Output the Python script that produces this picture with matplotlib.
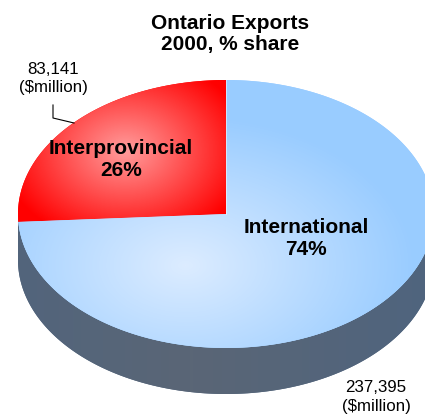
import numpy as np
import matplotlib.pyplot as plt
from matplotlib.patches import Polygon
from matplotlib.colors import LinearSegmentedColormap

labels = ["Interprovincial", "International"]
values = [83141, 237395]          # $million
shares = [26, 74]                 # % share
title = "Ontario Exports\n2000, % share"

# geometry of the tilted pie, in pixels
cx, cy = 226, 214
a, b = 208, 134
depth = 46
W, H = 425, 419


def rim(t0, t1, n=200, dy=0):
    t = np.radians(np.linspace(t0, t1, n))
    return np.column_stack([cx + a * np.cos(t), cy - b * np.sin(t) + dy])


def radial(ax, patch, centre, radius, c_in, c_out):
    yy, xx = np.mgrid[0:H, 0:W]
    d = np.hypot((xx - centre[0]) / radius[0], (yy - centre[1]) / radius[1])
    d = np.clip(d, 0, 1)
    cmap = LinearSegmentedColormap.from_list("g", [c_in, c_out])
    im = ax.imshow(d, cmap=cmap, vmin=0, vmax=1, extent=(0, W, H, 0),
                   origin="upper", zorder=patch.get_zorder(), interpolation="bilinear")
    im.set_clip_path(patch)


def main():
    plt.rcParams["font.family"] = ["Liberation Sans", "DejaVu Sans"]
    fig = plt.figure(figsize=(W / 100, H / 100), dpi=100)
    ax = fig.add_axes([0, 0, 1, 1])
    ax.set_xlim(0, W)
    ax.set_ylim(H, 0)
    ax.axis("off")

    frac = values[0] / sum(values)
    start = 90
    split = start + 360 * frac

    # side wall of the front half
    side_pts = np.vstack([rim(180, 360), rim(360, 180, dy=depth)])
    side = Polygon(side_pts, closed=True, facecolor="#4f6580", edgecolor="none", zorder=1)
    ax.add_patch(side)
    xs = np.linspace(0, 1, W)
    shade = np.tile(1 - np.abs(xs - 0.45) * 1.2, (H, 1))
    im = ax.imshow(shade, cmap=LinearSegmentedColormap.from_list("s", ["#4a6382", "#5a6676"]),
                   vmin=0, vmax=1, extent=(0, W, H, 0), origin="upper", zorder=1)
    im.set_clip_path(side)

    # top faces
    red = Polygon(np.vstack([[cx, cy], rim(start, split)]), closed=True,
                  facecolor="#ff0000", edgecolor="none", zorder=2)
    blue = Polygon(np.vstack([[cx, cy], rim(split, start + 360)]), closed=True,
                   facecolor="#99ccff", edgecolor="none", zorder=2)
    ax.add_patch(red)
    ax.add_patch(blue)
    radial(ax, red, (125, 150), (125, 95), "#ff9c9c", "#ff0000")
    radial(ax, blue, (185, 265), (230, 150), "#dcecff", "#99ccff")
    ax.plot([cx, cx], [cy, cy - b], color="white", lw=0.6, alpha=0.6, zorder=3)

    ax.text(230, 34, title, ha="center", va="center", fontsize=15,
            fontweight="bold", linespacing=1.12)
    ax.text(121, 159, f"{labels[0]}\n{shares[0]}%", ha="center", va="center",
            fontsize=15, fontweight="bold", linespacing=1.2, zorder=4)
    ax.text(306, 238, f"{labels[1]}\n{shares[1]}%", ha="center", va="center",
            fontsize=15, fontweight="bold", linespacing=1.2, zorder=4)

    ax.text(53, 78, f"{values[0]:,}\n($million)", ha="center", va="center",
            fontsize=12.2, linespacing=1.25)
    ax.text(376, 397, f"{values[1]:,}\n($million)", ha="center", va="center",
            fontsize=12.2, linespacing=1.25)
    ax.plot([53, 53, 74], [105, 118, 123], color="black", lw=0.8, zorder=5)

    fig.savefig("out.png", dpi=100)
    plt.close("all")


if __name__ == "__main__":
    main()
